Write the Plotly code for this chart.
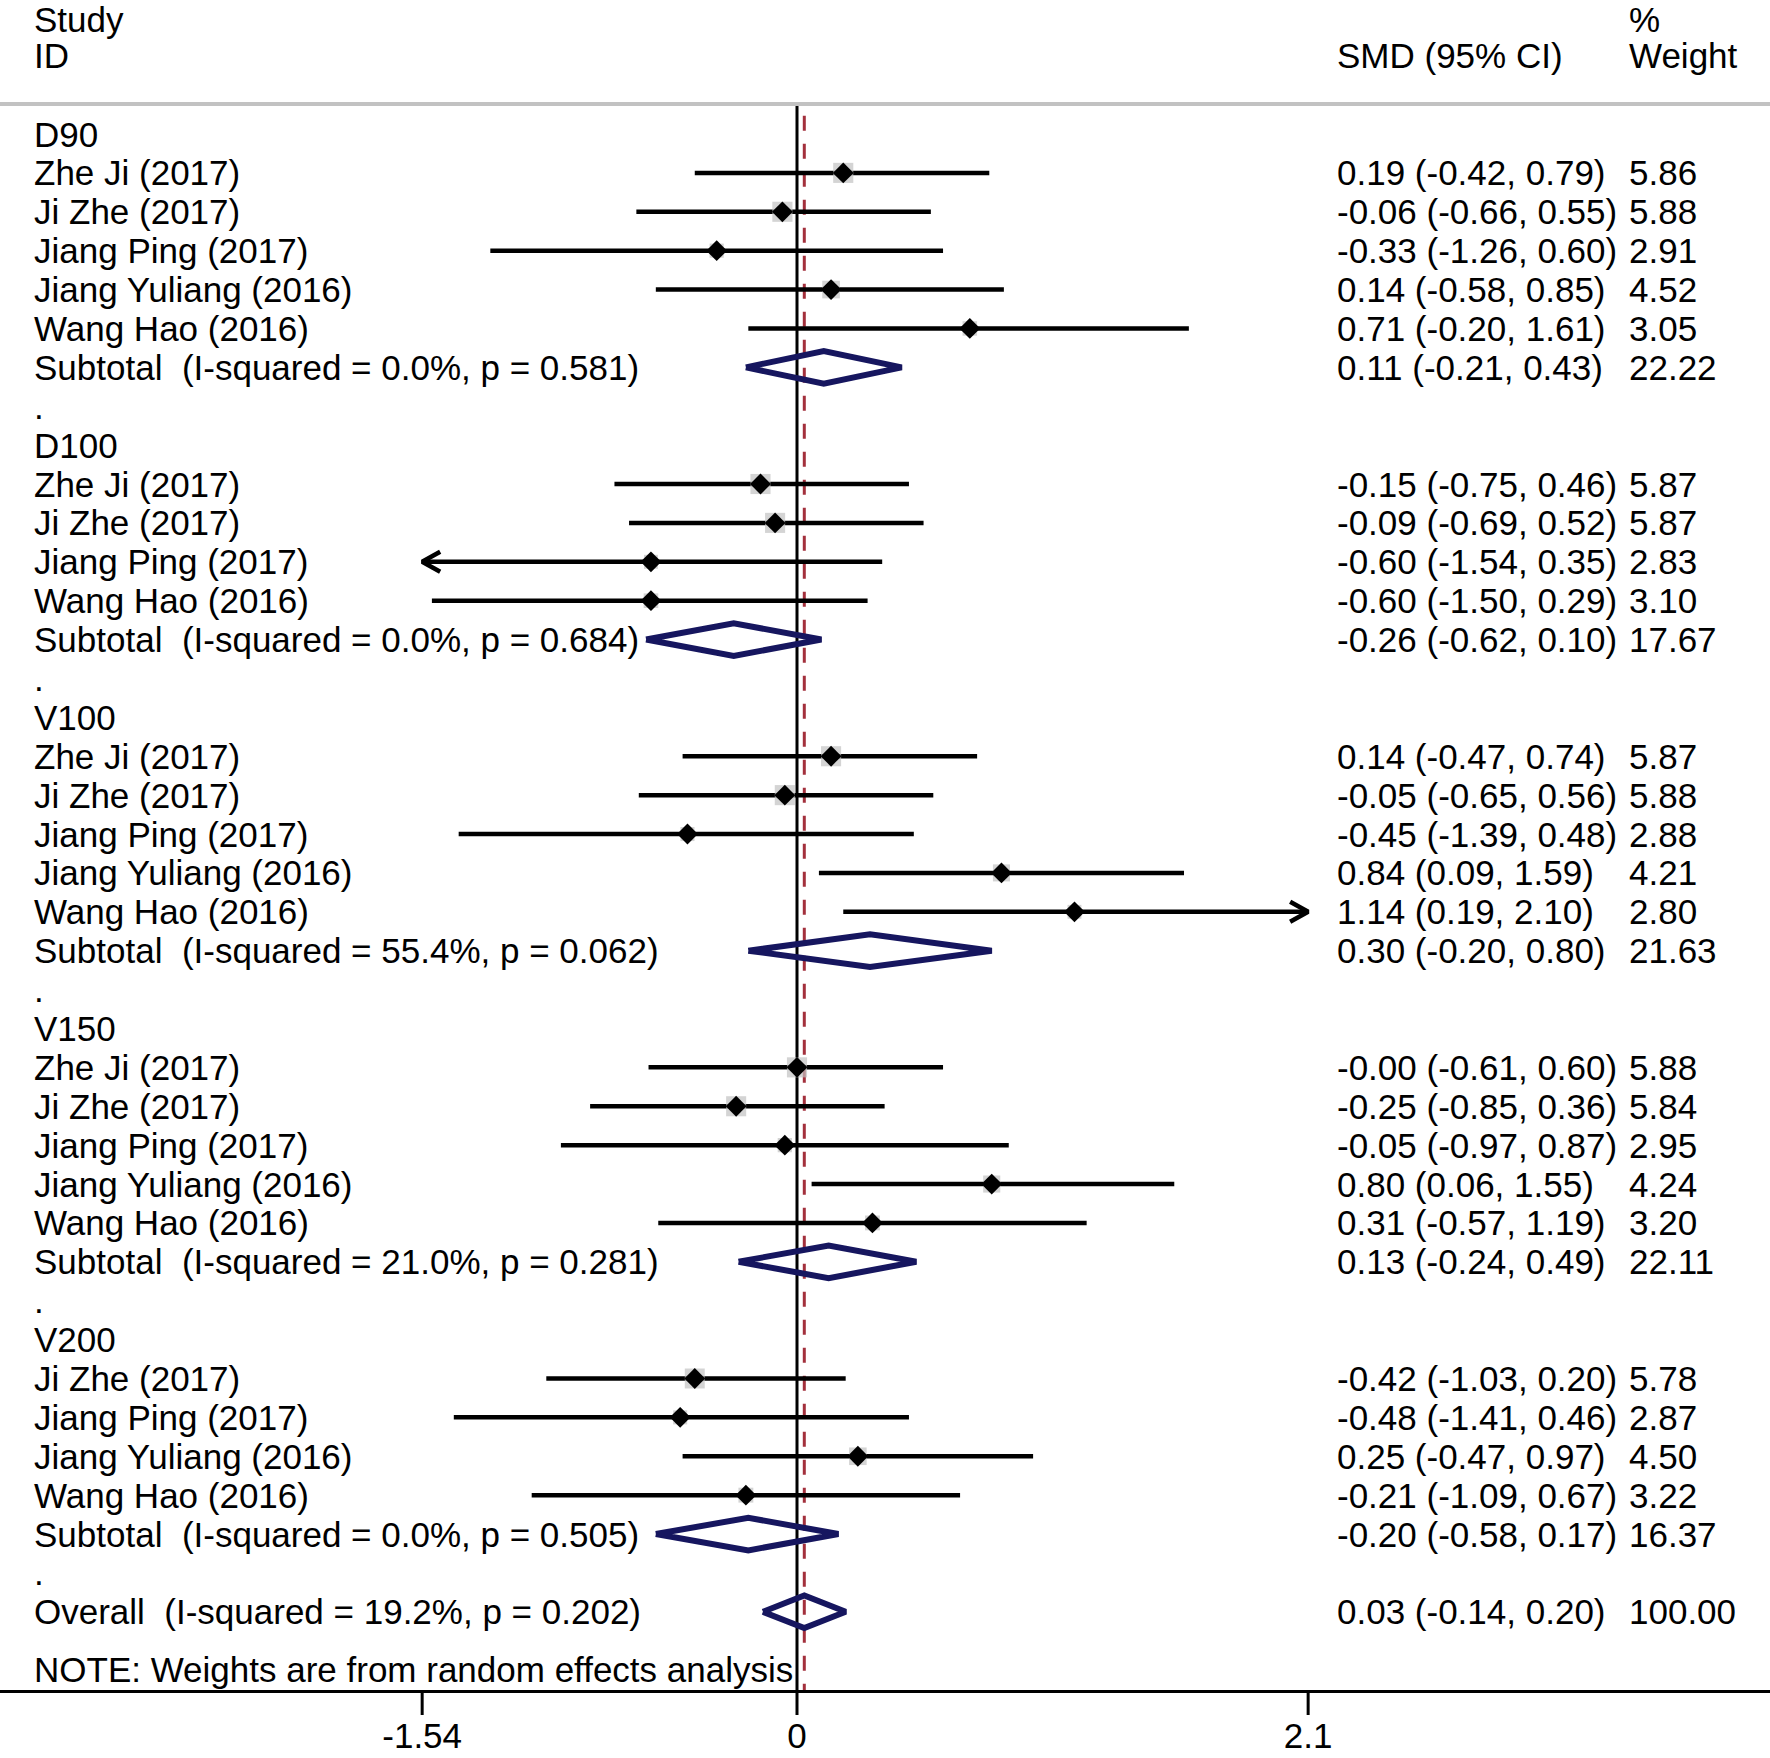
import math
import plotly.graph_objects as go

# ---------------- data ----------------
groups = ["D90", "D100", "V100", "V150", "V200"]

study_group = (["D90"] * 5 + ["D100"] * 4 + ["V100"] * 5 + ["V150"] * 5 + ["V200"] * 4)
study_names = [
    "Zhe Ji (2017)", "Ji Zhe (2017)", "Jiang Ping (2017)", "Jiang Yuliang (2016)", "Wang Hao (2016)",
    "Zhe Ji (2017)", "Ji Zhe (2017)", "Jiang Ping (2017)", "Wang Hao (2016)",
    "Zhe Ji (2017)", "Ji Zhe (2017)", "Jiang Ping (2017)", "Jiang Yuliang (2016)", "Wang Hao (2016)",
    "Zhe Ji (2017)", "Ji Zhe (2017)", "Jiang Ping (2017)", "Jiang Yuliang (2016)", "Wang Hao (2016)",
    "Ji Zhe (2017)", "Jiang Ping (2017)", "Jiang Yuliang (2016)", "Wang Hao (2016)",
]
study_es = [0.19, -0.06, -0.33, 0.14, 0.71,
            -0.15, -0.09, -0.60, -0.60,
            0.14, -0.05, -0.45, 0.84, 1.14,
            -0.0, -0.25, -0.05, 0.80, 0.31,
            -0.42, -0.48, 0.25, -0.21]
study_lo = [-0.42, -0.66, -1.26, -0.58, -0.20,
            -0.75, -0.69, -1.54, -1.50,
            -0.47, -0.65, -1.39, 0.09, 0.19,
            -0.61, -0.85, -0.97, 0.06, -0.57,
            -1.03, -1.41, -0.47, -1.09]
study_hi = [0.79, 0.55, 0.60, 0.85, 1.61,
            0.46, 0.52, 0.35, 0.29,
            0.74, 0.56, 0.48, 1.59, 2.10,
            0.60, 0.36, 0.87, 1.55, 1.19,
            0.20, 0.46, 0.97, 0.67]
study_wt = [5.86, 5.88, 2.91, 4.52, 3.05,
            5.87, 5.87, 2.83, 3.10,
            5.87, 5.88, 2.88, 4.21, 2.80,
            5.88, 5.84, 2.95, 4.24, 3.20,
            5.78, 2.87, 4.50, 3.22]

sub_i2 = [0.0, 0.0, 55.4, 21.0, 0.0]
sub_p = [0.581, 0.684, 0.062, 0.281, 0.505]
sub_es = [0.11, -0.26, 0.30, 0.13, -0.20]
sub_lo = [-0.21, -0.62, -0.20, -0.24, -0.58]
sub_hi = [0.43, 0.10, 0.80, 0.49, 0.17]
sub_wt = [22.22, 17.67, 21.63, 22.11, 16.37]

overall_i2 = 19.2
overall_p = 0.202
overall_es = 0.03
overall_lo = -0.14
overall_hi = 0.20
overall_wt = 100.00

tick_vals = [-1.54, 0, 2.1]
tick_text = ["-1.54", "0", "2.1"]

# ---------------- styling ----------------
FONT = "Liberation Sans, Arial, Helvetica, sans-serif"
FS = 35
NAVY = "#16165f"
RED = "#a3303c"
GRAY = "#c2c2c2"

W, H = 1770, 1758
PX_PER_UNIT = 243.4
X0_PX = 797
ROW0_PX = 134
ROW_PX = 38.89
AXIS_PX = 1690
TICK_PX = 25

x_range = [-X0_PX / PX_PER_UNIT, (W - X0_PX) / PX_PER_UNIT]
y_top = -ROW0_PX / ROW_PX
y_bot = (AXIS_PX - ROW0_PX) / ROW_PX

LEFT_X = 32 / W
CI_X = 1335 / W
WT_X = 1627 / W

xmin, xmax = tick_vals[0], tick_vals[-1]

# ---------------- row layout ----------------
ann = []


def txt(x, y, s):
    ann.append(dict(x=x, y=y, xref="paper", yref="y", text=s, showarrow=False,
                    xanchor="left", yanchor="middle",
                    font=dict(family=FONT, size=FS, color="black")))


study_rows = []
sub_rows = []
row = 0
for gi, g in enumerate(groups):
    txt(LEFT_X, row, g)
    row += 1
    for si, sg in enumerate(study_group):
        if sg == g:
            study_rows.append(row)
            row += 1
    sub_rows.append(row)
    row += 1
    txt(LEFT_X, row, ".")
    row += 1
overall_row = row
note_row = overall_row + 1.48

# header
txt(LEFT_X, -2.957, "Study")
txt(LEFT_X, -2.006, "ID")
txt(CI_X, -2.006, "SMD (95% CI)")
txt(WT_X, -2.957, "%")
txt(WT_X, -2.006, "Weight")

for i, r in enumerate(study_rows):
    txt(LEFT_X, r, study_names[i])
    txt(CI_X, r, f"{study_es[i]:.2f} ({study_lo[i]:.2f}, {study_hi[i]:.2f})")
    txt(WT_X, r, f"{study_wt[i]:.2f}")
for i, r in enumerate(sub_rows):
    txt(LEFT_X, r, f"Subtotal  (I-squared = {sub_i2[i]:.1f}%, p = {sub_p[i]:.3f})")
    txt(CI_X, r, f"{sub_es[i]:.2f} ({sub_lo[i]:.2f}, {sub_hi[i]:.2f})")
    txt(WT_X, r, f"{sub_wt[i]:.2f}")
txt(LEFT_X, overall_row, f"Overall  (I-squared = {overall_i2:.1f}%, p = {overall_p:.3f})")
txt(CI_X, overall_row, f"{overall_es:.2f} ({overall_lo:.2f}, {overall_hi:.2f})")
txt(WT_X, overall_row, f"{overall_wt:.2f}")
txt(LEFT_X, note_row, "NOTE: Weights are from random effects analysis")

# ---------------- traces ----------------
fig = go.Figure()

# CI lines
cx, cy = [], []
ax_, ay_ = [], []
arm_dx = 18 / PX_PER_UNIT
arm_dy = 10 / ROW_PX
for i, r in enumerate(study_rows):
    lo = max(study_lo[i], xmin)
    hi = min(study_hi[i], xmax)
    cx += [lo, hi, None]
    cy += [r, r, None]
    if study_lo[i] <= xmin:
        ax_ += [lo + arm_dx, lo, lo + arm_dx, None]
        ay_ += [r - arm_dy, r, r + arm_dy, None]
    if study_hi[i] >= xmax:
        ax_ += [hi - arm_dx, hi, hi - arm_dx, None]
        ay_ += [r - arm_dy, r, r + arm_dy, None]

# vertical reference lines (drawn under marks)
fig.add_shape(type="line", xref="x", yref="y", x0=0, x1=0, y0=-0.771, y1=y_bot,
              line=dict(color="black", width=3), layer="below")
fig.add_shape(type="line", xref="x", yref="y", x0=overall_es, x1=overall_es,
              y0=-0.771 + 0.3, y1=y_bot,
              line=dict(color=RED, width=3, dash="15px,13px"), layer="below")
# header separator
fig.add_shape(type="line", xref="paper", yref="y", x0=0, x1=1, y0=-0.771, y1=-0.771,
              line=dict(color=GRAY, width=4))
# tick marks below the axis line
for tv in tick_vals:
    fig.add_shape(type="line", xref="x", yref="paper", x0=tv, x1=tv,
                  y0=0, y1=-TICK_PX / AXIS_PX, line=dict(color="black", width=3))

fig.add_trace(go.Scatter(x=cx, y=cy, mode="lines", line=dict(color="black", width=4.5),
                         hoverinfo="skip", showlegend=False))
fig.add_trace(go.Scatter(x=ax_, y=ay_, mode="lines", line=dict(color="black", width=4.5),
                         hoverinfo="skip", showlegend=False))

# weight boxes
fig.add_trace(go.Scatter(x=study_es, y=study_rows, mode="markers",
                         marker=dict(symbol="square", color=GRAY,
                                     size=[8.3 * math.sqrt(w) for w in study_wt],
                                     line=dict(width=0)),
                         hoverinfo="skip", showlegend=False))
# point estimates
fig.add_trace(go.Scatter(x=study_es, y=study_rows, mode="markers",
                         marker=dict(symbol="diamond", color="black", size=16, line=dict(width=0)),
                         hoverinfo="skip", showlegend=False))

# pooled diamonds
dh = 16.3 / ROW_PX
dx_, dy_ = [], []
all_es = sub_es + [overall_es]
all_lo = sub_lo + [overall_lo]
all_hi = sub_hi + [overall_hi]
all_rows = sub_rows + [overall_row]
for e, lo, hi, r in zip(all_es, all_lo, all_hi, all_rows):
    dx_ += [lo, e, hi, e, lo, None]
    dy_ += [r, r - dh, r, r + dh, r, None]
fig.add_trace(go.Scatter(x=dx_, y=dy_, mode="lines", line=dict(color=NAVY, width=6),
                         hoverinfo="skip", showlegend=False))

fig.update_layout(
    width=W, height=H,
    margin=dict(l=0, r=0, t=0, b=H - AXIS_PX, pad=0),
    paper_bgcolor="white", plot_bgcolor="white",
    annotations=ann,
    showlegend=False,
    xaxis=dict(range=x_range, showgrid=False, zeroline=False, showline=True,
               linecolor="black", linewidth=3, ticks="outside", ticklen=13,
               tickwidth=3, tickcolor="rgba(0,0,0,0)", tickvals=tick_vals, ticktext=tick_text,
               tickfont=dict(family=FONT, size=FS, color="black"), automargin=False,
               fixedrange=True),
    yaxis=dict(range=[y_bot, y_top], showgrid=False, zeroline=False, showline=False,
               showticklabels=False, ticks="", automargin=False, fixedrange=True),
)

fig.write_html("out.html", config={"displayModeBar": False},
               post_script="document.body.style.margin='0px';document.body.style.overflow='hidden';")
